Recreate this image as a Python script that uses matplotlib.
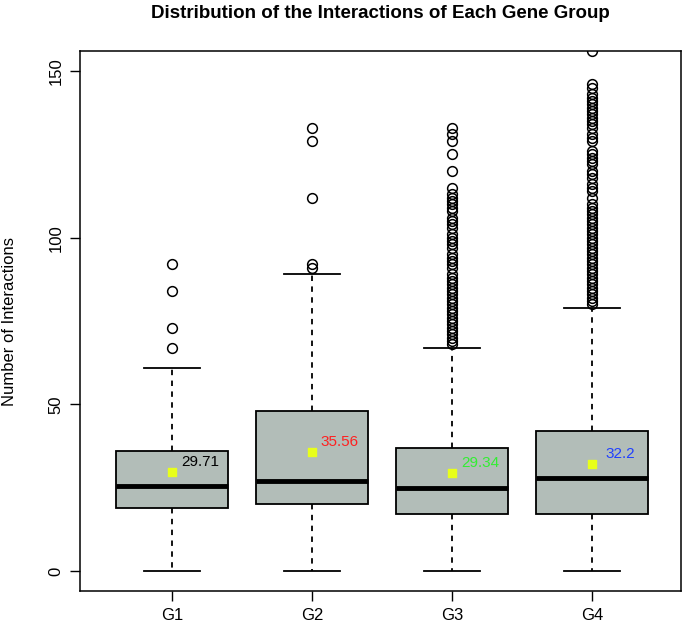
import matplotlib
matplotlib.use("Agg")
import matplotlib.pyplot as plt

plt.rcParams['font.family'] = ['Liberation Sans', 'DejaVu Sans']

# datos
grupos = ["G1", "G2", "G3", "G4"]
medias = [29.71, 35.56, 29.34, 32.2]
colores_media = ["black", "#ff2020", "#33ee33", "#2040ff"]
bigote_inf = [0, 0, 0, 0]
q1 = [19, 20, 17, 17]
mediana = [25.5, 27, 25, 28]
q3 = [36, 48, 37, 42]
bigote_sup = [61, 89, 67, 79]

outliers_g1 = [67, 73, 84, 92]
outliers_g2 = [91, 92, 112, 129, 133]
outliers_g3 = [68, 69, 70, 71, 72, 73, 74, 75, 76, 77, 78, 79, 80, 81, 82, 83, 84,
               85, 86, 87, 88, 89, 91, 92, 93, 94, 95, 97, 98, 99, 100, 101, 103,
               104, 105, 106, 108, 109, 110, 111, 112, 113, 115, 120, 125, 129,
               131, 133]
outliers_g4 = [80, 81, 82, 83, 84, 85, 86, 87, 88, 89, 90, 91, 92, 93, 94, 95, 96,
               97, 98, 99, 100, 101, 102, 103, 104, 105, 106, 107, 108, 109, 110,
               112, 114, 115, 116, 118, 119, 120, 122, 123, 124, 125, 126, 129,
               130, 131, 133, 134, 135, 136, 137, 138, 139, 140, 141, 142, 143,
               145, 146, 156]
outliers = [outliers_g1, outliers_g2, outliers_g3, outliers_g4]

fig = plt.figure(figsize=(6.85, 6.29), dpi=100)
ax = fig.add_axes([80 / 685, 38 / 629, 601 / 685, 540 / 629])

stats = []
for i in range(len(grupos)):
    stats.append({
        "label": grupos[i],
        "whislo": bigote_inf[i], "q1": q1[i], "med": mediana[i],
        "q3": q3[i], "whishi": bigote_sup[i], "fliers": outliers[i],
    })

posiciones = list(range(1, len(grupos) + 1))
ax.bxp(stats, positions=posiciones, widths=0.8, patch_artist=True, showfliers=True,
       boxprops=dict(facecolor="#b2bdb8", edgecolor="black", linewidth=1.3),
       medianprops=dict(color="black", linewidth=3.5),
       whiskerprops=dict(color="black", linestyle=(0, (3, 3)), linewidth=1.3),
       capprops=dict(color="black", linewidth=1.3),
       capwidths=0.4,
       flierprops=dict(marker="o", markerfacecolor="none", markeredgecolor="black",
                       markersize=7, markeredgewidth=1.1, linestyle="none"))

# medias en amarillo con su etiqueta
ax.scatter(posiciones, medias, marker="s", s=34, color="#e8ff1a", zorder=5)
for x, m, c in zip(posiciones, medias, colores_media):
    ax.text(x + 0.2, m + 3, str(m), color=c, fontsize=11, ha="center", va="center")

ax.set_xlim(0.343, 4.636)
ax.set_ylim(-6, 156)
ax.set_yticks([0, 50, 100, 150])
ax.set_yticklabels(["0", "50", "100", "150"], rotation=90, va="center")
ax.set_xticks(posiciones)
ax.set_xticklabels(grupos)
ax.tick_params(axis="both", direction="out", length=7, width=1, labelsize=12, pad=5)
for s in ax.spines.values():
    s.set_linewidth(1.1)

ax.set_ylabel("Number of Interactions", fontsize=12)
ax.yaxis.set_label_coords(-0.105, 0.5)
ax.set_title("Distribution of the Interactions of Each Gene Group",
             fontsize=13.5, fontweight="bold", pad=24)

fig.savefig("out.png", dpi=100)
